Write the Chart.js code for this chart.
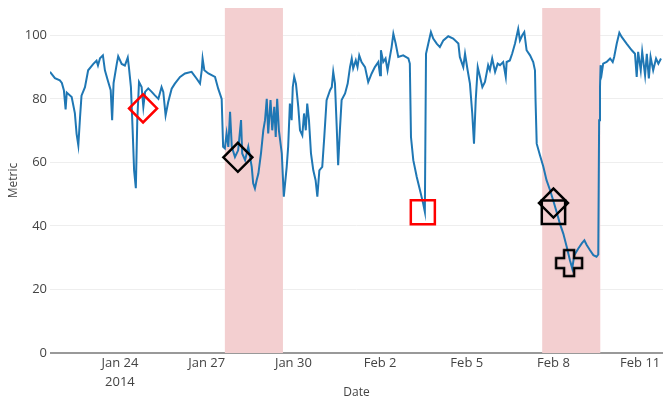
<!DOCTYPE html>
<html>
<head>
<meta charset="utf-8">
<script src="https://cdn.jsdelivr.net/npm/chart.js@4/dist/chart.umd.min.js"></script>
<style>
  body { margin: 0; background: #fff; }
  #holder { width: 663px; height: 400px; }
</style>
</head>
<body>
<div id="holder">
  <canvas id="metricChart" width="663" height="400"></canvas>
</div>
<script>
// x values are day numbers counted from Jan 1 2014 (Feb 1 = 32)
var dayNums = [
  21.58, 21.75, 21.92, 21.99, 22.06, 22.12, 22.16, 22.33, 22.44, 22.50, 22.56, 22.62, 22.67, 22.79, 22.90,
  23.08, 23.19, 23.24, 23.31, 23.41, 23.48, 23.58, 23.68, 23.73, 23.78, 23.89, 23.94, 24.06, 24.17, 24.27,
  24.31, 24.38, 24.44, 24.49, 24.55, 24.60, 24.66, 24.75, 24.81, 24.87, 24.98, 25.10, 25.21, 25.33, 25.44,
  25.50, 25.58, 25.67, 25.79, 25.90, 26.08, 26.25, 26.48, 26.65, 26.77, 26.83, 26.86, 26.92, 27.06, 27.29,
  27.40, 27.52, 27.57, 27.63, 27.69, 27.75, 27.81, 27.87, 27.98, 28.09, 28.19, 28.23, 28.33, 28.44, 28.56,
  28.61, 28.67, 28.73, 28.79, 28.88, 28.96, 29.02, 29.08, 29.13, 29.21, 29.27, 29.34, 29.39, 29.44, 29.50,
  29.60, 29.67, 29.77, 29.82, 29.88, 29.94, 29.98, 30.03, 30.09, 30.17, 30.23, 30.31, 30.37, 30.43, 30.48,
  30.54, 30.61, 30.69, 30.77, 30.83, 30.90, 31.00, 31.07, 31.15, 31.27, 31.33, 31.38, 31.44, 31.50, 31.55,
  31.61, 31.67, 31.79, 31.88, 31.96, 32.02, 32.07, 32.16, 32.22, 32.28, 32.36, 32.48, 32.59, 32.71, 32.82,
  32.94, 33.00, 33.03, 33.11, 33.19, 33.26, 33.34, 33.40, 33.46, 33.54, 33.63, 33.80, 33.98, 34.03, 34.07,
  34.15, 34.27, 34.38, 34.49, 34.55, 34.59, 34.67, 34.76, 34.84, 34.96, 35.07, 35.19, 35.36, 35.53, 35.71,
  35.76, 35.88, 35.94, 36.03, 36.11, 36.19, 36.25, 36.31, 36.38, 36.46, 36.54, 36.63, 36.74, 36.80, 36.88,
  36.98, 37.07, 37.15, 37.26, 37.35, 37.38, 37.49, 37.57, 37.67, 37.78, 37.84, 37.92, 37.99, 38.07, 38.19,
  38.30, 38.36, 38.38, 38.42, 38.53, 38.65, 38.76, 38.88, 38.99, 39.11, 39.22, 39.34, 39.46, 39.57, 39.65,
  39.72, 39.86, 39.98, 40.07, 40.15, 40.26, 40.38, 40.49, 40.55, 40.58, 40.61, 40.63, 40.67, 40.72, 40.84,
  40.96, 41.05, 41.10, 41.19, 41.28, 41.36, 41.53, 41.71, 41.82, 41.88, 41.93, 42.02, 42.07, 42.17, 42.23,
  42.30, 42.36, 42.45, 42.55, 42.63, 42.72
];
var metric = [
  88.5, 86.5, 85.8, 85.0, 82.7, 76.7, 82.0, 80.6, 75.5, 69.0, 65.4, 74.3, 81.0, 83.7, 89.0,
  91.0, 92.0, 90.5, 92.8, 93.7, 89.0, 85.8, 82.7, 73.3, 85.0, 91.0, 93.4, 91.0, 90.5, 93.0,
  90.0, 83.7, 70.0, 57.5, 51.9, 73.3, 85.3, 83.7, 77.5, 82.2, 83.3, 82.2, 81.1, 80.0, 83.7,
  82.2, 74.8, 79.0, 83.2, 84.8, 86.9, 88.0, 88.5, 86.4, 84.8, 89.0, 92.7, 89.0, 88.0, 86.9,
  83.2, 80.0, 64.9, 64.4, 69.1, 64.9, 75.9, 64.9, 61.7, 63.8, 73.3, 62.8, 60.7, 64.9, 58.6,
  53.4, 51.8, 54.4, 56.5, 62.8, 70.1, 73.3, 80.0, 69.1, 79.6, 70.1, 77.5, 68.0, 80.0, 70.1,
  62.8, 49.2, 58.6, 64.9, 78.5, 73.3, 83.7, 86.9, 84.8, 77.5, 70.1, 68.5, 75.4, 70.1, 78.5,
  73.3, 62.8, 57.5, 54.4, 49.2, 57.5, 58.6, 68.0, 79.6, 82.7, 83.7, 88.5, 84.8, 71.2, 59.1,
  70.1, 79.6, 81.7, 84.8, 90.0, 92.7, 89.6, 92.1, 90.0, 93.7, 91.6, 90.0, 85.3, 88.0, 90.0,
  91.6, 87.4, 95.3, 91.6, 92.7, 89.0, 93.2, 96.3, 100.5, 97.4, 93.2, 93.7, 92.7, 91.1, 68.0,
  60.7, 55.4, 51.3, 47.1, 44.4, 94.2, 97.4, 101.0, 99.0, 97.4, 96.3, 98.4, 99.7, 99.0, 97.4,
  93.2, 90.0, 94.2, 89.0, 84.8, 75.4, 65.9, 79.6, 90.0, 86.9, 83.7, 85.3, 90.6, 89.0, 92.7,
  88.5, 91.1, 90.6, 91.6, 86.9, 91.6, 92.1, 94.2, 97.4, 102.0, 98.4, 100.0, 101.0, 95.3, 93.7,
  91.6, 89.0, 79.6, 65.9, 62.3, 58.6, 54.4, 51.3, 48.1, 44.4, 40.8, 37.6, 33.4, 29.2, 26.6,
  30.8, 32.9, 34.5, 35.5, 34.0, 32.4, 30.8, 30.3, 31.0, 73.3, 83.7, 90.6, 88.0, 91.1, 91.6,
  92.7, 91.6, 93.2, 97.4, 100.8, 99.5, 97.4, 95.3, 94.2, 86.9, 94.8, 89.0, 94.8, 87.4, 94.2,
  86.4, 93.2, 89.0, 92.7, 91.1, 92.7
];

// annotation markers
var redDiamondDay = [24.80], redDiamondVal = [77.0];
var blackDiamondDays = [28.08, 39.00], blackDiamondVals = [61.6, 47.2];
var redSquareDay = [34.48], redSquareVal = [44.3];
var blackSquareDay = [39.00], blackSquareVal = [44.3];
var crossDay = [39.54], crossVal = [28.3];

// shaded periods
var shadeStart = [27.63, 38.61];
var shadeEnd = [29.64, 40.62];

var tickDays = [24, 27, 30, 33, 36, 39, 42];
var tickLabels = [['Jan 24', '2014'], 'Jan 27', 'Jan 30', 'Feb 2', 'Feb 5', 'Feb 8', 'Feb 11'];
var yTicks = [0, 20, 40, 60, 80, 100];

function pts(xs, ys) {
  return xs.map(function (x, i) { return { x: x, y: ys[i] }; });
}

// outlined plus symbol
function crossSymbol() {
  var c = document.createElement('canvas');
  c.width = 32; c.height = 32;
  var g = c.getContext('2d');
  var m = 16, a = 5, L = 13;
  g.beginPath();
  g.moveTo(m - a, m - L); g.lineTo(m + a, m - L); g.lineTo(m + a, m - a);
  g.lineTo(m + L, m - a); g.lineTo(m + L, m + a); g.lineTo(m + a, m + a);
  g.lineTo(m + a, m + L); g.lineTo(m - a, m + L); g.lineTo(m - a, m + a);
  g.lineTo(m - L, m + a); g.lineTo(m - L, m - a); g.lineTo(m - a, m - a);
  g.closePath();
  g.strokeStyle = '#000';
  g.lineWidth = 2.5;
  g.stroke();
  return c;
}

var shadePlugin = {
  id: 'shade',
  beforeDatasetsDraw: function (chart) {
    var ctx = chart.ctx, area = chart.chartArea, xs = chart.scales.x;
    ctx.save();
    ctx.fillStyle = '#f3cfd0';
    for (var i = 0; i < shadeStart.length; i++) {
      var x1 = xs.getPixelForValue(shadeStart[i]);
      var x2 = xs.getPixelForValue(shadeEnd[i]);
      ctx.fillRect(x1, area.top, x2 - x1, area.bottom - area.top);
    }
    ctx.restore();
  }
};

function markerSet(data, style, color, r) {
  return {
    type: 'scatter', data: data, showLine: false, order: 0,
    pointStyle: style, pointRadius: r, pointHoverRadius: r,
    borderColor: color, backgroundColor: 'rgba(0,0,0,0)', borderWidth: 2.5
  };
}

function noPad(s) {
  s.paddingTop = 0; s.paddingBottom = 0; s.paddingLeft = 0; s.paddingRight = 0;
}

var ctx = document.getElementById('metricChart');
var chart = new Chart(ctx, {
  type: 'line',
  data: {
    datasets: [
      {
        data: pts(dayNums, metric), order: 10,
        borderColor: '#1f77b4', borderWidth: 2, pointRadius: 0, tension: 0, fill: false
      },
      markerSet(pts(redDiamondDay, redDiamondVal), 'rectRot', '#ff0000', 14),
      markerSet(pts(blackDiamondDays, blackDiamondVals), 'rectRot', '#000000', 14.5),
      markerSet(pts(redSquareDay, redSquareVal), 'rect', '#ff0000', 17),
      markerSet(pts(blackSquareDay, blackSquareVal), 'rect', '#000000', 16.5),
      markerSet(pts(crossDay, crossVal), crossSymbol(), '#000000', 14)
    ]
  },
  plugins: [shadePlugin],
  options: {
    responsive: false,
    animation: false,
    devicePixelRatio: 1,
    layout: { autoPadding: false, padding: { top: 8, right: 0, bottom: 0, left: 0 } },
    plugins: { legend: { display: false }, tooltip: { enabled: false } },
    scales: {
      x: {
        type: 'linear', min: 21.58, max: 42.79,
        afterBuildTicks: function (s) { s.ticks = tickDays.map(function (v) { return { value: v }; }); },
        afterFit: function (s) { s.height = 47; noPad(s); },
        grid: { display: false, drawTicks: false },
        border: { display: false },
        ticks: {
          autoSkip: false, maxRotation: 0, padding: 1, color: '#444',
          font: { family: 'Open Sans', size: 13, lineHeight: 1.45 },
          callback: function (v, i) { return tickLabels[i]; }
        },
        title: {
          display: true, text: 'Date', color: '#444',
          font: { family: 'Open Sans', size: 12 },
          padding: { top: 0, bottom: 0 }
        }
      },
      y: {
        min: 0, max: 108.6,
        afterBuildTicks: function (s) { s.ticks = yTicks.map(function (v) { return { value: v }; }); },
        afterFit: function (s) { s.width = 50; noPad(s); },
        border: { display: false },
        grid: {
          drawTicks: false,
          color: function (c) { return c.tick && c.tick.value === 0 ? '#999' : '#eeeeee'; },
          lineWidth: function (c) { return c.tick && c.tick.value === 0 ? 2 : 1; }
        },
        ticks: {
          padding: 3, color: '#444',
          font: { family: 'Open Sans', size: 13 }
        },
        title: {
          display: true, text: 'Metric', color: '#444',
          font: { family: 'Open Sans', size: 12 },
          padding: { top: 6, bottom: 0 }
        }
      }
    }
  }
});
</script>
</body>
</html>
